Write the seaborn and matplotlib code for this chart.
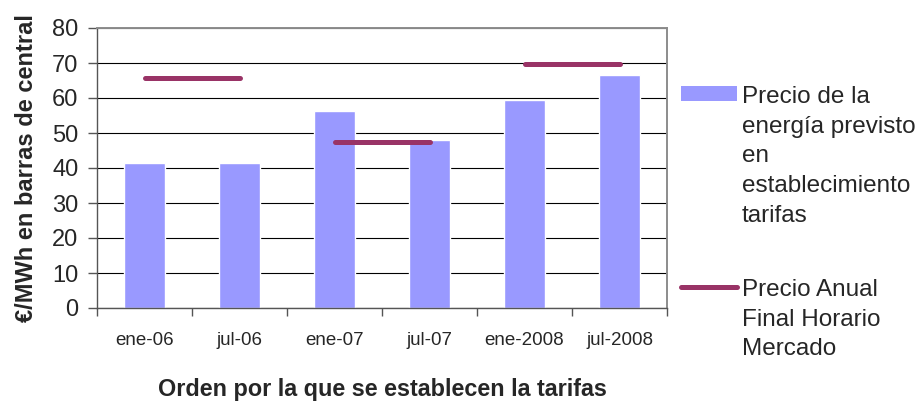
import matplotlib
matplotlib.use("Agg")
import matplotlib.pyplot as plt
import seaborn as sns
import pandas as pd
from matplotlib.patches import Patch
from matplotlib.lines import Line2D

# ---- data ----
categories = ["ene-06", "jul-06", "ene-07", "jul-07", "ene-2008", "jul-2008"]
precio_previsto = [41.5, 41.5, 56.3, 48.0, 59.4, 66.6]
anual_inicio = ["ene-06", "ene-07", "ene-2008"]
anual_fin = ["jul-06", "jul-07", "jul-2008"]
precio_anual = [65.6, 47.3, 69.7]
yticks = [0, 10, 20, 30, 40, 50, 60, 70, 80]
label_barras = "Precio de la\nenergía previsto\nen\nestablecimiento\ntarifas"
label_linea = "Precio Anual\nFinal Horario\nMercado"
xlabel = "Orden por la que se establecen la tarifas"
ylabel = "€/MWh en barras de central"

BAR_COLOR = "#9999FF"
LINE_COLOR = "#993366"

sns.set_style("white")
plt.rcParams["font.family"] = ["Liberation Sans", "DejaVu Sans"]

fig = plt.figure(figsize=(9.21, 4.03), dpi=100)
ax = fig.add_axes([97 / 921, 1 - 308 / 403, 570 / 921, 280 / 403])

df = pd.DataFrame({"periodo": categories, "precio": precio_previsto})
sns.barplot(data=df, x="periodo", y="precio", color=BAR_COLOR, saturation=1,
            width=0.43, ax=ax, zorder=2)

for a, b, v in zip(anual_inicio, anual_fin, precio_anual):
    xs = [categories.index(a), categories.index(b)]
    ax.plot(xs, [v, v], color=LINE_COLOR, lw=3.6, solid_capstyle="round", zorder=3)

ax.set_xlim(-0.5, len(categories) - 0.5)
ax.set_ylim(0, 80)
ax.set_yticks(yticks)
ax.set_yticklabels([str(t) for t in yticks], fontsize=17)
ax.yaxis.grid(True, color="black", lw=0.8)
ax.set_axisbelow(True)

# x ticks: marks at boundaries, labels at centers
n = len(categories)
ax.set_xticks([i - 0.5 for i in range(n + 1)])
ax.set_xticklabels([""] * (n + 1))
ax.set_xticks(list(range(n)), minor=True)
ax.set_xticklabels(categories, minor=True, fontsize=13.5)
ax.tick_params(axis="x", which="major", direction="out", length=6, width=1,
               color="#555555", bottom=True)
ax.tick_params(axis="x", which="minor", length=0, pad=17)
ax.tick_params(axis="y", direction="out", length=6.5, width=1, color="#555555",
               pad=7, left=True)

for s in ["top", "right"]:
    ax.spines[s].set_color("#8c8c8c")
    ax.spines[s].set_linewidth(1.4)
for s in ["left", "bottom"]:
    ax.spines[s].set_color("#555555")
    ax.spines[s].set_linewidth(1.0)

ax.set_xlabel(xlabel, fontsize=16.8, fontweight="bold")
ax.set_ylabel(ylabel, fontsize=17, fontweight="bold")
ax.xaxis.set_label_coords(0.5, -0.25)
ax.yaxis.set_label_coords(-0.103, 0.5)

handles = [Patch(facecolor=BAR_COLOR, edgecolor="none"),
           Line2D([0], [0], color=LINE_COLOR, lw=3.6, solid_capstyle="round")]
leg = fig.legend(handles, [label_barras, label_linea], loc="upper left",
                 bbox_to_anchor=(681 / 921, 1 - 86 / 403), frameon=False,
                 fontsize=17.5, handlelength=2.3, handleheight=0.6,
                 handletextpad=0.2, labelspacing=2.15, borderpad=0,
                 borderaxespad=0)
for t in leg.get_texts():
    t.set_linespacing(1.45)
for col in leg._legend_handle_box.get_children():
    for row in col.get_children():
        row.align = "top"

fig.savefig("out.png", dpi=100)
